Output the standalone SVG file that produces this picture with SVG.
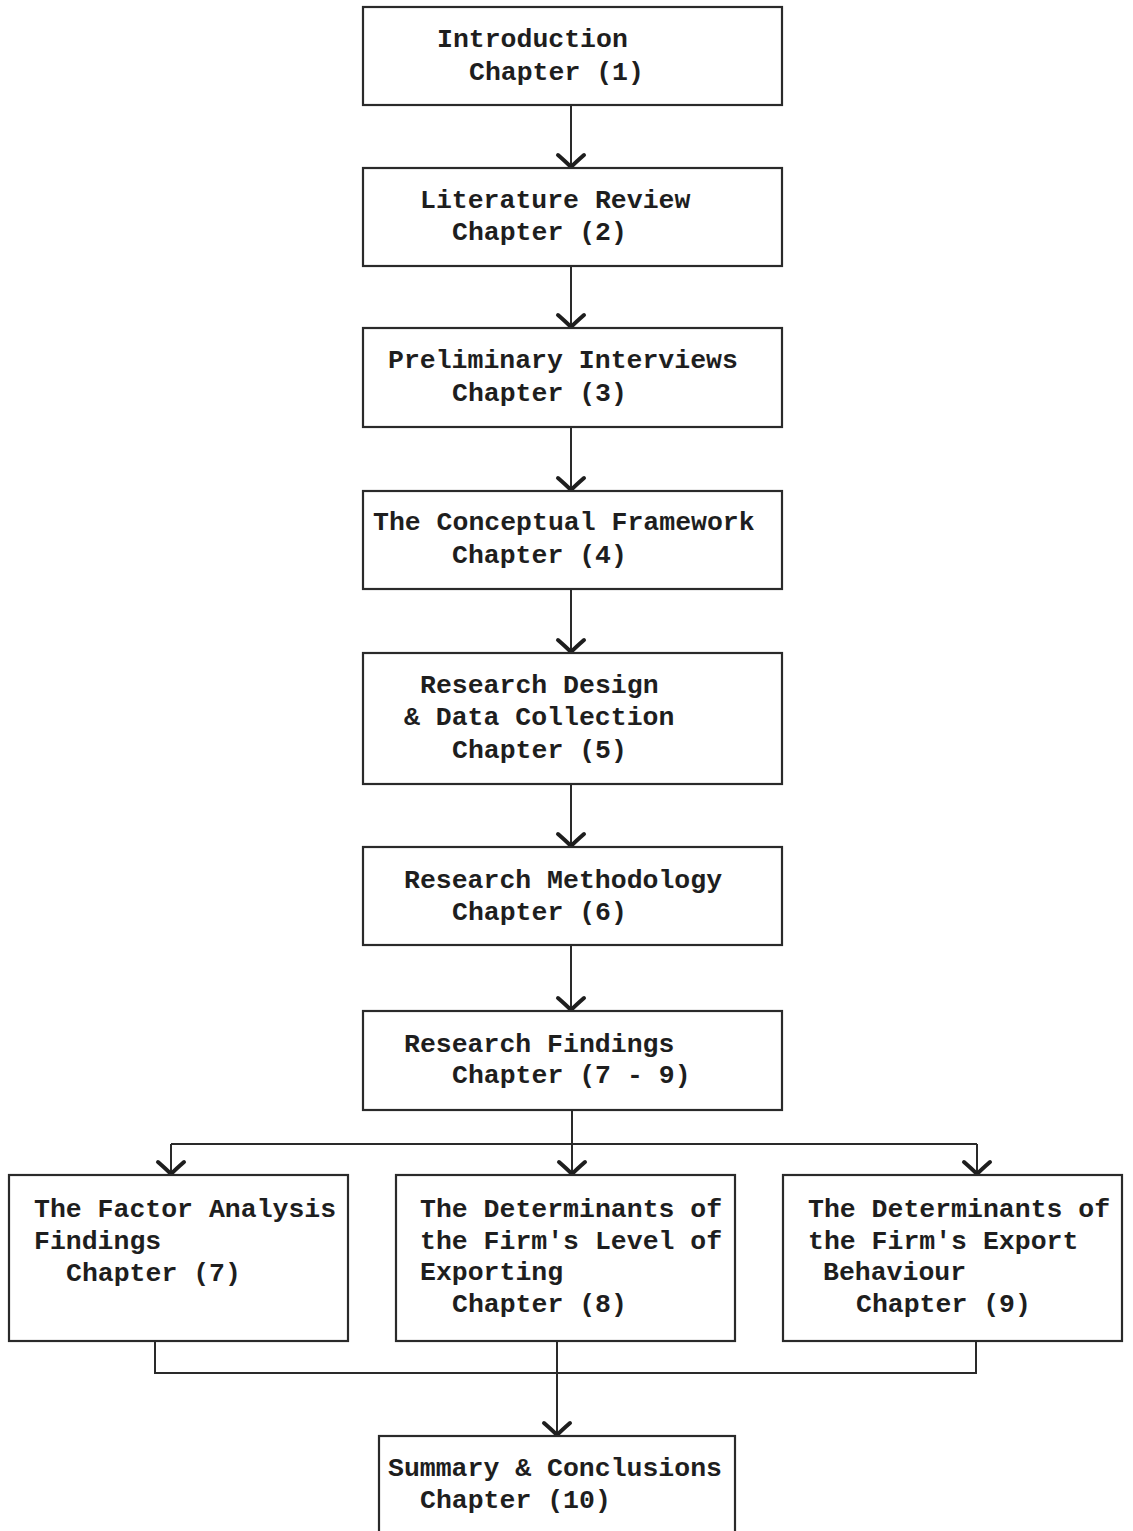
<svg xmlns="http://www.w3.org/2000/svg" width="1133" height="1531" viewBox="0 0 1133 1531">
  <style>
    .box { fill: #ffffff; stroke: #2a2a2a; stroke-width: 2.2; }
    .lbl { font-family: "Liberation Mono", "Courier New", monospace; font-size: 26.5px; font-weight: bold; fill: #1e1e1e; }
    .wire { fill: none; stroke: #2a2a2a; stroke-width: 2; }
  </style>
  <defs>
    <!-- heavy open chevron used at the end of every connector -->
    <marker id="chev" markerUnits="userSpaceOnUse" markerWidth="40" markerHeight="40" refX="0" refY="0" orient="auto" overflow="visible">
      <path d="M -13,-13 Q -6,-5 -1,0 Q -6,5 -13,13" fill="none" stroke="#1e1e1e" stroke-width="4" stroke-linecap="round" stroke-linejoin="round"/>
    </marker>
  </defs>
  <rect width="1133" height="1531" fill="#ffffff"/>

  <g id="connectors">
    <line class="wire" x1="571" y1="105" x2="571" y2="168" marker-end="url(#chev)"/>
    <line class="wire" x1="571" y1="266" x2="571" y2="328" marker-end="url(#chev)"/>
    <line class="wire" x1="571" y1="427" x2="571" y2="491" marker-end="url(#chev)"/>
    <line class="wire" x1="571" y1="589" x2="571" y2="653" marker-end="url(#chev)"/>
    <line class="wire" x1="571" y1="784" x2="571" y2="847" marker-end="url(#chev)"/>
    <line class="wire" x1="571" y1="945" x2="571" y2="1011" marker-end="url(#chev)"/>
    <polyline class="wire" points="572,1110 572,1144"/>
    <polyline class="wire" points="171,1144 977,1144"/>
    <line class="wire" x1="171" y1="1144" x2="171" y2="1175" marker-end="url(#chev)"/>
    <line class="wire" x1="572" y1="1144" x2="572" y2="1175" marker-end="url(#chev)"/>
    <line class="wire" x1="977" y1="1144" x2="977" y2="1175" marker-end="url(#chev)"/>
    <polyline class="wire" points="155,1341 155,1373 976,1373 976,1341"/>
    <line class="wire" x1="557" y1="1341" x2="557" y2="1436" marker-end="url(#chev)"/>
  </g>

  <g id="introduction">
    <rect class="box" x="363" y="7" width="419" height="98"/>
    <text class="lbl" x="437" y="47">Introduction</text>
    <text class="lbl" x="469" y="80">Chapter (1)</text>
  </g>

  <g id="literature-review">
    <rect class="box" x="363" y="168" width="419" height="98"/>
    <text class="lbl" x="420" y="208">Literature Review</text>
    <text class="lbl" x="452" y="240">Chapter (2)</text>
  </g>

  <g id="preliminary-interviews">
    <rect class="box" x="363" y="328" width="419" height="99"/>
    <text class="lbl" x="388" y="368">Preliminary Interviews</text>
    <text class="lbl" x="452" y="401">Chapter (3)</text>
  </g>

  <g id="conceptual-framework">
    <rect class="box" x="363" y="491" width="419" height="98"/>
    <text class="lbl" x="373" y="530">The Conceptual Framework</text>
    <text class="lbl" x="452" y="563">Chapter (4)</text>
  </g>

  <g id="research-design">
    <rect class="box" x="363" y="653" width="419" height="131"/>
    <text class="lbl" x="420" y="693">Research Design</text>
    <text class="lbl" x="404" y="725">&amp; Data Collection</text>
    <text class="lbl" x="452" y="758">Chapter (5)</text>
  </g>

  <g id="research-methodology">
    <rect class="box" x="363" y="847" width="419" height="98"/>
    <text class="lbl" x="404" y="888">Research Methodology</text>
    <text class="lbl" x="452" y="920">Chapter (6)</text>
  </g>

  <g id="research-findings">
    <rect class="box" x="363" y="1011" width="419" height="99"/>
    <text class="lbl" x="404" y="1052">Research Findings</text>
    <text class="lbl" x="452" y="1083">Chapter (7 - 9)</text>
  </g>

  <g id="factor-analysis">
    <rect class="box" x="9" y="1175" width="339" height="166"/>
    <text class="lbl" x="34" y="1217">The Factor Analysis</text>
    <text class="lbl" x="34" y="1249">Findings</text>
    <text class="lbl" x="66" y="1281">Chapter (7)</text>
  </g>

  <g id="level-of-exporting">
    <rect class="box" x="396" y="1175" width="339" height="166"/>
    <text class="lbl" x="420" y="1217">The Determinants of</text>
    <text class="lbl" x="420" y="1249">the Firm's Level of</text>
    <text class="lbl" x="420" y="1280">Exporting</text>
    <text class="lbl" x="452" y="1312">Chapter (8)</text>
  </g>

  <g id="export-behaviour">
    <rect class="box" x="783" y="1175" width="339" height="166"/>
    <text class="lbl" x="808" y="1217">The Determinants of</text>
    <text class="lbl" x="808" y="1249">the Firm's Export</text>
    <text class="lbl" x="823" y="1280">Behaviour</text>
    <text class="lbl" x="856" y="1312">Chapter (9)</text>
  </g>

  <g id="summary-conclusions">
    <rect class="box" x="379" y="1436" width="356" height="110"/>
    <text class="lbl" x="388" y="1476">Summary &amp; Conclusions</text>
    <text class="lbl" x="420" y="1508">Chapter (10)</text>
  </g>
</svg>
